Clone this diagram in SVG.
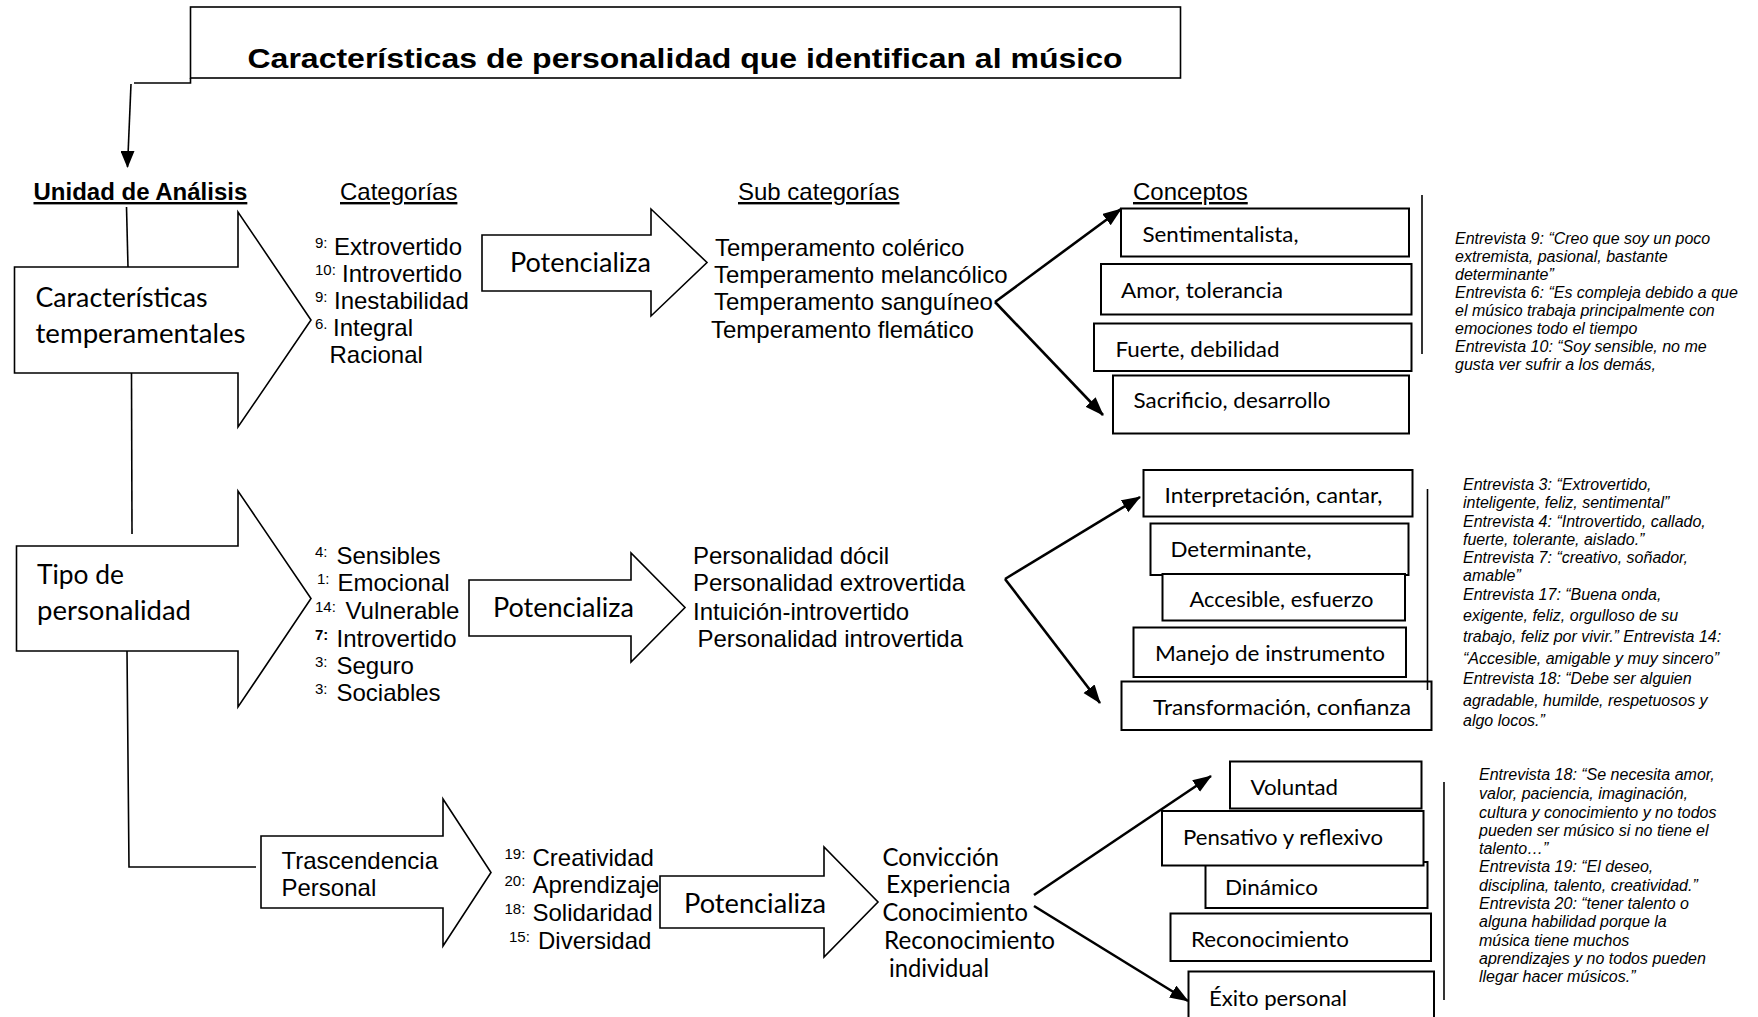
<svg xmlns="http://www.w3.org/2000/svg" width="1758" height="1017" viewBox="0 0 1758 1017">
<defs>
<marker id="ah" markerUnits="userSpaceOnUse" markerWidth="22" markerHeight="18" refX="18" refY="7" orient="auto"><path d="M0,0 L19,7 L0,14 z" fill="#000"/></marker>
<marker id="ahd" markerUnits="userSpaceOnUse" markerWidth="16" markerHeight="22" refX="7" refY="16" orient="0"><path d="M0,0 L14,0 L7,17 z" fill="#000"/></marker>
</defs>
<style>
text{fill:#000}
.ar{font-family:"Liberation Sans",Arial,sans-serif;font-size:24px}
.hd{font-family:"Liberation Sans",Arial,sans-serif;font-size:24px;text-decoration:underline}
.cb{font-family:Lato,"Liberation Sans",sans-serif}
.lbl{font-size:27px}
.con{font-size:22px}
.sub3{font-size:24.5px}
.q{font-family:"Liberation Sans",Arial,sans-serif;font-size:16px;font-style:italic}
.sup{font-size:15px}
.shape{fill:#fff;stroke:#000;stroke-width:1.6}
.box{fill:#fff;stroke:#000;stroke-width:2}
.ln{stroke:#000;stroke-width:1.6;fill:none}
.arr{stroke:#000;stroke-width:2.6;fill:none;marker-end:url(#ah)}
</style>
<rect width="1758" height="1017" fill="#fff"/>

<g id="title">
<rect x="190.5" y="7" width="990" height="71" class="shape"/>
<text x="685" y="68" text-anchor="middle" font-family="Liberation Sans, Arial, sans-serif" font-weight="bold" font-size="28" textLength="875" lengthAdjust="spacingAndGlyphs">Características de personalidad que identifican al músico</text>
</g>

<g id="headers">
<text class="hd" x="33.5" y="200" font-weight="bold">Unidad de Análisis</text>
<text class="hd" x="340" y="200">Categorías</text>
<text class="hd" x="738" y="200">Sub categorías</text>
<text class="hd" x="1133" y="200">Conceptos</text>
</g>

<g id="connectors">
<polyline class="ln" points="190.5,78 190.5,83 134,83"/>
<line class="ln" x1="131" y1="84" x2="127.5" y2="167" style="marker-end:url(#ahd)"/>
<line class="ln" x1="126.5" y1="207" x2="128" y2="267"/>
<line class="ln" x1="131.5" y1="373" x2="132" y2="534"/>
<polyline class="ln" points="127,651 129,867 256,867"/>
<line class="arr" x1="995" y1="302" x2="1121" y2="209"/>
<line class="arr" x1="995" y1="302" x2="1103" y2="415"/>
<line class="arr" x1="1005" y1="579" x2="1140" y2="497"/>
<line class="arr" x1="1005" y1="579" x2="1100" y2="703"/>
<line class="arr" x1="1034" y1="895" x2="1211" y2="776"/>
<line class="arr" x1="1034" y1="906" x2="1188" y2="1001"/>
</g>

<g id="unit1">
<path class="shape" d="M14.5,267 H238 V212 L311,320 L238,427 V373 H14.5 Z"/>
<text class="cb lbl" x="35.5" y="307" textLength="172" lengthAdjust="spacingAndGlyphs">Características</text>
<text class="cb lbl" x="35.5" y="343" textLength="210" lengthAdjust="spacingAndGlyphs">temperamentales</text>
</g>

<g id="cat1">
<text class="ar"><tspan class="sup" x="315" y="248">9:</tspan><tspan x="334" y="255">Extrovertido</tspan></text>
<text class="ar"><tspan class="sup" x="315" y="275">10:</tspan><tspan x="342" y="282">Introvertido</tspan></text>
<text class="ar"><tspan class="sup" x="315" y="302">9:</tspan><tspan x="334" y="309">Inestabilidad</tspan></text>
<text class="ar"><tspan class="sup" x="315" y="329">6.</tspan><tspan x="333" y="336">Integral</tspan></text>
<text class="ar" x="329.5" y="363">Racional</text>
</g>

<g id="pot1">
<path class="shape" d="M482,235 H651 V209 L707,262.5 L651,316 V291 H482 Z"/>
<text class="cb lbl" x="510" y="272" textLength="141" lengthAdjust="spacingAndGlyphs">Potencializa</text>
</g>

<g id="sub1">
<text class="ar" x="715" y="255.5">Temperamento colérico</text>
<text class="ar" x="714" y="282.5">Temperamento melancólico</text>
<text class="ar" x="714" y="310">Temperamento sanguíneo</text>
<text class="ar" x="711" y="337.5">Temperamento flemático</text>
</g>

<g id="con1">
<rect class="box" x="1121" y="208.5" width="288" height="48"/>
<text class="cb con" x="1142.5" y="242" textLength="156" lengthAdjust="spacingAndGlyphs">Sentimentalista,</text>
<rect class="box" x="1101" y="264" width="310.5" height="50.5"/>
<text class="cb con" x="1121" y="297.5" textLength="162" lengthAdjust="spacingAndGlyphs">Amor, tolerancia</text>
<rect class="box" x="1094" y="323.5" width="317.5" height="47.5"/>
<text class="cb con" x="1115.5" y="356.5" textLength="164" lengthAdjust="spacingAndGlyphs">Fuerte, debilidad</text>
<rect class="box" x="1113" y="375.5" width="296" height="58"/>
<text class="cb con" x="1133.5" y="408" textLength="197" lengthAdjust="spacingAndGlyphs">Sacrificio, desarrollo</text>
</g>

<g id="quote1">
<line class="ln" x1="1422" y1="195" x2="1422" y2="354"/>
<text class="q">
<tspan x="1455" y="243.5">Entrevista 9: “Creo que soy un poco</tspan>
<tspan x="1455" y="261.5">extremista, pasional, bastante</tspan>
<tspan x="1455" y="279.5">determinante”</tspan>
<tspan x="1455" y="297.5">Entrevista 6: “Es compleja debido a que</tspan>
<tspan x="1455" y="316">el músico trabaja principalmente con</tspan>
<tspan x="1455" y="334">emociones todo el tiempo</tspan>
<tspan x="1455" y="352">Entrevista 10: “Soy sensible, no me</tspan>
<tspan x="1455" y="370">gusta ver sufrir a los demás,</tspan>
</text>
</g>

<g id="unit2">
<path class="shape" d="M16.5,546 H238 V491 L311,598.5 L238,707 V651 H16.5 Z"/>
<text class="cb lbl" x="37" y="584" textLength="87" lengthAdjust="spacingAndGlyphs">Tipo de</text>
<text class="cb lbl" x="37" y="620" textLength="154" lengthAdjust="spacingAndGlyphs">personalidad</text>
</g>

<g id="cat2">
<text class="ar"><tspan class="sup" x="315" y="557">4:</tspan><tspan x="336.5" y="564">Sensibles</tspan></text>
<text class="ar"><tspan class="sup" x="317" y="584">1:</tspan><tspan x="337.5" y="591">Emocional</tspan></text>
<text class="ar"><tspan class="sup" x="315" y="612">14:</tspan><tspan x="345.5" y="619">Vulnerable</tspan></text>
<text class="ar"><tspan class="sup" x="315" y="640" font-weight="bold">7:</tspan><tspan x="336.5" y="647">Introvertido</tspan></text>
<text class="ar"><tspan class="sup" x="315" y="667">3:</tspan><tspan x="336.5" y="674">Seguro</tspan></text>
<text class="ar"><tspan class="sup" x="315" y="694">3:</tspan><tspan x="336.5" y="701">Sociables</tspan></text>
</g>

<g id="pot2">
<path class="shape" d="M469,580 H631 V553 L685,607.5 L631,662 V636 H469 Z"/>
<text class="cb lbl" x="493" y="617" textLength="141" lengthAdjust="spacingAndGlyphs">Potencializa</text>
</g>

<g id="sub2">
<text class="ar" x="693" y="564">Personalidad dócil</text>
<text class="ar" x="693" y="591">Personalidad extrovertida</text>
<text class="ar" x="693" y="620">Intuición-introvertido</text>
<text class="ar" x="697.5" y="647">Personalidad introvertida</text>
</g>

<g id="con2">
<rect class="box" x="1143.5" y="470" width="269" height="46.5"/>
<text class="cb con" x="1164.5" y="502.5" textLength="218" lengthAdjust="spacingAndGlyphs">Interpretación, cantar,</text>
<rect class="box" x="1150.5" y="523.5" width="258" height="51.5"/>
<text class="cb con" x="1170.5" y="557" textLength="141" lengthAdjust="spacingAndGlyphs">Determinante,</text>
<rect class="box" x="1162.5" y="574" width="242.5" height="46.5"/>
<text class="cb con" x="1189.5" y="606.5" textLength="184" lengthAdjust="spacingAndGlyphs">Accesible, esfuerzo</text>
<rect class="box" x="1133.5" y="627.5" width="272.5" height="49.5"/>
<text class="cb con" x="1155" y="661" textLength="230" lengthAdjust="spacingAndGlyphs">Manejo de instrumento</text>
<rect class="box" x="1121.5" y="681.5" width="310" height="48.5"/>
<text class="cb con" x="1153" y="714.5" textLength="258" lengthAdjust="spacingAndGlyphs">Transformación, confianza</text>
</g>

<g id="quote2">
<line class="ln" x1="1427.5" y1="489" x2="1427.5" y2="690"/>
<text class="q">
<tspan x="1463" y="490">Entrevista 3: “Extrovertido,</tspan>
<tspan x="1463" y="508">inteligente, feliz, sentimental”</tspan>
<tspan x="1463" y="526.5">Entrevista 4: “Introvertido, callado,</tspan>
<tspan x="1463" y="544.5">fuerte, tolerante, aislado.”</tspan>
<tspan x="1463" y="562.5">Entrevista 7: “creativo, soñador,</tspan>
<tspan x="1463" y="580.5">amable”</tspan>
<tspan x="1463" y="599.5">Entrevista 17: “Buena onda,</tspan>
<tspan x="1463" y="621">exigente, feliz, orgulloso de su</tspan>
<tspan x="1463" y="642">trabajo, feliz por vivir.” Entrevista 14:</tspan>
<tspan x="1463" y="663.5">“Accesible, amigable y muy sincero”</tspan>
<tspan x="1463" y="683.5">Entrevista 18: “Debe ser alguien</tspan>
<tspan x="1463" y="705.5">agradable, humilde, respetuosos y</tspan>
<tspan x="1463" y="726">algo locos.”</tspan>
</text>
</g>

<g id="unit3">
<path class="shape" d="M261,836 H443 V799 L491,872.5 L443,946 V908 H261 Z"/>
<text class="ar" x="281.5" y="869">Trascendencia</text>
<text class="ar" x="281.5" y="896">Personal</text>
</g>

<g id="cat3">
<text class="ar"><tspan class="sup" x="504.5" y="859">19:</tspan><tspan x="532.5" y="866">Creatividad</tspan></text>
<text class="ar"><tspan class="sup" x="504.5" y="886">20:</tspan><tspan x="532.5" y="893">Aprendizaje</tspan></text>
<text class="ar"><tspan class="sup" x="504.5" y="913.5">18:</tspan><tspan x="532.5" y="920.5">Solidaridad</tspan></text>
<text class="ar"><tspan class="sup" x="509" y="941.5">15:</tspan><tspan x="538" y="948.5">Diversidad</tspan></text>
</g>

<g id="pot3">
<path class="shape" d="M660,876 H824 V847 L878,902 L824,957 V928 H660 Z"/>
<text class="cb lbl" x="684" y="913" textLength="142" lengthAdjust="spacingAndGlyphs">Potencializa</text>
</g>

<g id="sub3">
<text class="cb sub3" x="882.5" y="866" textLength="116.5" lengthAdjust="spacingAndGlyphs">Convicción</text>
<text class="cb sub3" x="886" y="893" textLength="124.5" lengthAdjust="spacingAndGlyphs">Experiencia</text>
<text class="cb sub3" x="882.5" y="920.5" textLength="145.5" lengthAdjust="spacingAndGlyphs">Conocimiento</text>
<text class="cb sub3" x="884" y="948.5" textLength="171" lengthAdjust="spacingAndGlyphs">Reconocimiento</text>
<text class="cb sub3" x="889" y="976.5" textLength="100" lengthAdjust="spacingAndGlyphs">individual</text>
</g>

<g id="con3">
<rect class="box" x="1230" y="761.5" width="191.5" height="47"/>
<text class="cb con" x="1250.5" y="794.5" textLength="87.5" lengthAdjust="spacingAndGlyphs">Voluntad</text>
<rect class="box" x="1205.5" y="862" width="222" height="46"/>
<text class="cb con" x="1225" y="895" textLength="93" lengthAdjust="spacingAndGlyphs">Dinámico</text>
<rect class="box" x="1162" y="811" width="261.5" height="54.5"/>
<text class="cb con" x="1183" y="844.5" textLength="200" lengthAdjust="spacingAndGlyphs">Pensativo y reflexivo</text>
<rect class="box" x="1170.5" y="913.5" width="260.5" height="47.5"/>
<text class="cb con" x="1191" y="947" textLength="158" lengthAdjust="spacingAndGlyphs">Reconocimiento</text>
<rect class="box" x="1188.5" y="971.5" width="245.5" height="60"/>
<text class="cb con" x="1209" y="1006" textLength="138" lengthAdjust="spacingAndGlyphs">Éxito personal</text>
</g>

<g id="quote3">
<line class="ln" x1="1444" y1="782" x2="1444" y2="1000"/>
<text class="q">
<tspan x="1479" y="780">Entrevista 18: “Se necesita amor,</tspan>
<tspan x="1479" y="799">valor, paciencia, imaginación,</tspan>
<tspan x="1479" y="818">cultura y conocimiento y no todos</tspan>
<tspan x="1479" y="836">pueden ser músico si no tiene el</tspan>
<tspan x="1479" y="854">talento…”</tspan>
<tspan x="1479" y="872">Entrevista 19: “El deseo,</tspan>
<tspan x="1479" y="891">disciplina, talento, creatividad.”</tspan>
<tspan x="1479" y="909">Entrevista 20: “tener talento o</tspan>
<tspan x="1479" y="927">alguna habilidad porque la</tspan>
<tspan x="1479" y="945.5">música tiene muchos</tspan>
<tspan x="1479" y="964">aprendizajes y no todos pueden</tspan>
<tspan x="1479" y="982">llegar hacer músicos.”</tspan>
</text>
</g>
</svg>
